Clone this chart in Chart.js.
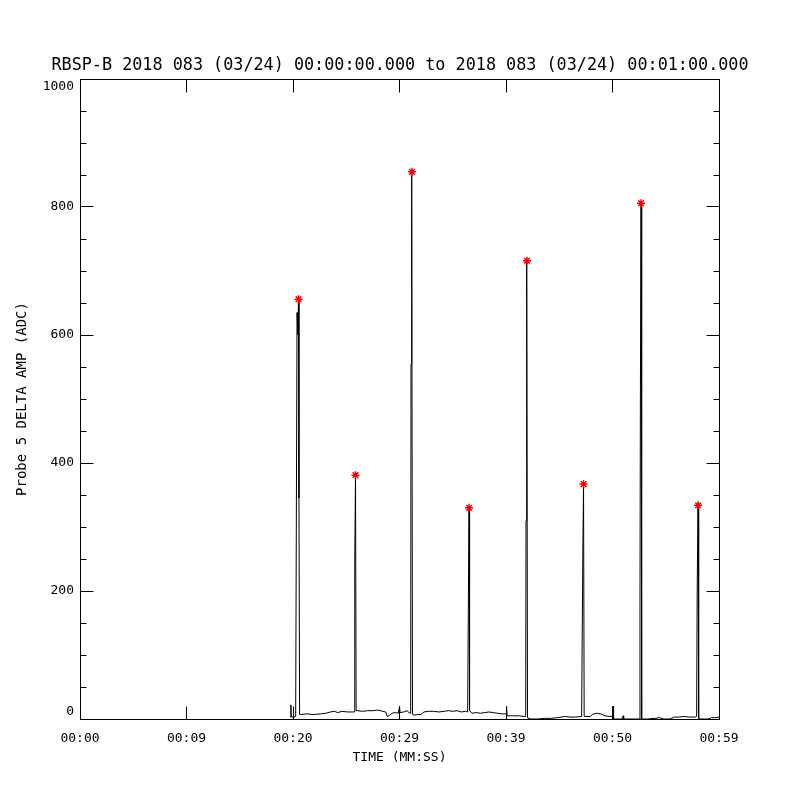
<!DOCTYPE html>
<html><head><meta charset="utf-8">
<script src="https://cdn.jsdelivr.net/npm/chart.js@4/dist/chart.umd.min.js"></script>
<style>html,body{margin:0;padding:0;background:#fff;}#wrap{width:800px;height:800px;}</style>
</head><body><div id="wrap"><canvas id="c" width="800" height="800"></canvas></div>
<script>
const titleText = 'RBSP-B 2018 083 (03/24) 00:00:00.000 to 2018 083 (03/24) 00:01:00.000';
const xTitle = 'TIME (MM:SS)';
const yTitle = 'Probe 5 DELTA AMP (ADC)';
const xTickLabels = ['00:00', '00:09', '00:20', '00:29', '00:39', '00:50', '00:59'];
const yTickLabels = [['0', ''], '200', '400', '600', '800', ['', '1000']];

// trace: time (s) and amplitude (ADC)
const traceTimes = [
  19.75, 19.80, 19.85, 20.10, 20.25, 20.38, 20.45, 20.52, 20.56, 20.62,
  20.70, 21.30, 21.90, 22.60, 23.10, 23.50, 23.90, 24.20, 24.60, 25.10, 25.60,
  25.75, 25.80, 25.87, 25.93,
  26.10, 26.50, 27.00, 27.50, 28.00, 28.40, 28.70, 28.85, 29.10, 29.30, 29.60, 29.90, 30.00, 30.05, 30.40, 30.70, 30.90, 31.05,
  31.08, 31.12, 31.17, 31.22,
  31.40, 31.70, 32.00, 32.30, 32.70, 33.20, 33.70, 34.20, 34.60, 35.00, 35.40, 35.80, 36.20, 36.40,
  36.47, 36.53, 36.58,
  36.80, 37.20, 37.60, 38.00, 38.40, 38.80, 39.20, 39.60, 40.00, 40.05, 40.10, 40.60, 41.20, 41.70, 41.85,
  41.88, 41.92, 41.97, 42.02,
  42.30, 43.00, 43.60, 44.20, 44.80, 45.20, 45.60, 46.00, 46.50, 47.10,
  47.22, 47.28, 47.34,
  47.60, 47.90, 48.10, 48.50, 48.90, 49.30, 49.70, 50.00, 50.05, 50.10, 50.90, 51.00, 51.05, 52.00, 52.55,
  52.58, 52.62, 52.68, 52.74,
  53.20, 54.00, 54.40, 54.80, 55.40, 55.80, 56.30, 56.70, 57.20, 57.80, 57.90,
  57.95, 58.03, 58.09,
  58.50, 59.00, 59.30, 59.70, 60.00
];
const traceValues = [
  3, 22, 3, 3, 4, 635, 600, 656, 345, 7,
  7, 8, 7, 8, 9, 11, 12, 10, 12, 11, 11,
  11, 250, 381, 13,
  13, 12, 13, 13, 14, 12, 11, 4, 6, 9, 10, 9, 20, 10, 11, 13, 10, 9,
  555, 593, 855, 7,
  6, 7, 7, 11, 12, 12, 11, 12, 13, 12, 13, 11, 12, 11,
  190, 330, 13,
  9, 10, 9, 10, 11, 10, 9, 8, 8, 20, 5, 5, 5, 4, 4,
  310, 645, 716, 2,
  0, 0, 1, 1, 2, 3, 4, 3, 3, 4,
  272, 367, 4,
  4, 4, 7, 9, 8, 5, 4, 4, 20, 0, 0, 5, 0, 0, 0,
  180, 505, 806, 0,
  0, 1, 2, 0, 0, 3, 3, 4, 3, 3, 4,
  195, 334, 0,
  0, 0, 2, 2, 3
];
// peak markers
const peakTimes = [20.52, 25.87, 31.17, 36.53, 41.97, 47.28, 52.68, 58.03];
const peakValues = [656, 381, 855, 330, 716, 367, 806, 334];

const MONO = "'DejaVu Sans Mono', monospace";
Chart.defaults.color = '#000';
Chart.defaults.font.family = MONO;

const idlAxes = {
  id: 'idlAxes',
  afterDatasetsDraw(chart) {
    const {ctx, chartArea: a, scales: {x, y}} = chart;
    const f = v => Math.floor(v) + 0.5;
    const L = f(a.left), R = f(a.right), T = f(a.top), B = f(a.bottom);
    ctx.save();
    ctx.strokeStyle = '#000';
    ctx.lineWidth = 1;
    ctx.beginPath();
    ctx.rect(L, T, R - L, B - T);
    const yt = y.ticks;
    yt.forEach((t, i) => {
      const py = f(y.getPixelForValue(t.value));
      ctx.moveTo(L, py); ctx.lineTo(L + 13, py);
      ctx.moveTo(R, py); ctx.lineTo(R - 13, py);
      if (i < yt.length - 1) {
        const step = (yt[i + 1].value - t.value) / 4;
        for (let k = 1; k < 4; k++) {
          const my = f(y.getPixelForValue(t.value + k * step));
          ctx.moveTo(L, my); ctx.lineTo(L + 6, my);
          ctx.moveTo(R, my); ctx.lineTo(R - 6, my);
        }
      }
    });
    x.ticks.forEach(t => {
      const px = f(x.getPixelForValue(t.value));
      ctx.moveTo(px, B); ctx.lineTo(px, B - 13);
      ctx.moveTo(px, T); ctx.lineTo(px, T + 13);
    });
    ctx.stroke();
    ctx.restore();
  }
};

new Chart(document.getElementById('c'), {
  type: 'line',
  data: {
    datasets: [
      {
        label: 'trace',
        data: traceTimes.map((t, i) => ({x: t, y: traceValues[i]})),
        borderColor: '#000',
        borderWidth: 1,
        pointRadius: 0,
        tension: 0,
        fill: false,
        order: 2
      },
      {
        label: 'peaks',
        type: 'scatter',
        data: peakTimes.map((t, i) => ({x: t, y: peakValues[i]})),
        pointStyle: 'star',
        pointRadius: 4,
        borderColor: '#ff0000',
        backgroundColor: '#ff0000',
        borderWidth: 1.5,
        showLine: false,
        order: 1
      }
    ]
  },
  options: {
    responsive: false,
    animation: false,
    devicePixelRatio: 1,
    layout: {padding: {top: 0, right: 0, bottom: 35, left: 0}},
    plugins: {
      legend: {display: false},
      tooltip: {enabled: false},
      title: {
        display: true,
        text: titleText,
        color: '#000',
        font: {family: MONO, size: 16.8, weight: 'normal', lineHeight: '20px'},
        padding: {top: 56, bottom: 3}
      }
    },
    scales: {
      x: {
        type: 'linear',
        position: 'bottom',
        min: 0, max: 60,
        grid: {display: false, drawTicks: false},
        border: {display: false},
        ticks: {
          stepSize: 10,
          autoSkip: false,
          maxRotation: 0,
          padding: 12,
          font: {family: MONO, size: 13},
          color: '#000',
          callback: (v, i) => xTickLabels[i]
        },
        title: {
          display: true,
          text: xTitle,
          color: '#000',
          font: {family: MONO, size: 13},
          padding: {top: 0, bottom: 0}
        },
        afterFit: s => { s.height = 46; }
      },
      y: {
        type: 'linear',
        position: 'left',
        min: 0, max: 1000,
        grid: {display: false, drawTicks: false},
        border: {display: false},
        ticks: {
          stepSize: 200,
          padding: 6,
          font: {family: MONO, size: 13},
          color: '#000',
          callback: (v, i) => yTickLabels[i]
        },
        title: {
          display: true,
          text: yTitle,
          color: '#000',
          font: {family: MONO, size: 14},
          padding: {top: 13.6, bottom: 0}
        },
        afterFit: s => { s.width = 80; }
      },
      yRight: {
        type: 'linear',
        position: 'right',
        min: 0, max: 1000,
        grid: {display: false, drawTicks: false},
        border: {display: false},
        ticks: {display: false},
        afterFit: s => { s.width = 81; }
      }
    }
  },
  plugins: [idlAxes]
});
</script>
</body></html>
